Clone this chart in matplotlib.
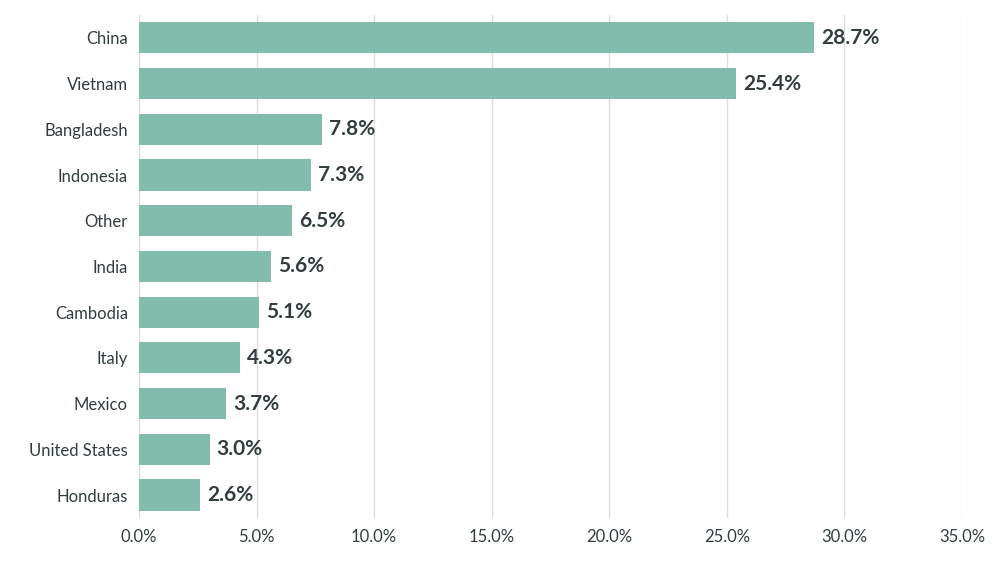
import matplotlib.pyplot as plt
from matplotlib.ticker import FuncFormatter

countries = ["China", "Vietnam", "Bangladesh", "Indonesia", "Other", "India",
             "Cambodia", "Italy", "Mexico", "United States", "Honduras"]
shares = [28.7, 25.4, 7.8, 7.3, 6.5, 5.6, 5.1, 4.3, 3.7, 3.0, 2.6]
xticks = [0, 5, 10, 15, 20, 25, 30, 35]

bar_color = "#82bcad"
text_color = "#333d3f"

fig = plt.figure(figsize=(10, 5.66), dpi=100)
ax = fig.add_axes([0.139, 0.085, 0.823, 0.8885])

ypos = range(len(countries))
ax.barh(ypos, shares, height=0.68, color=bar_color, zorder=2)
for y, v in zip(ypos, shares):
    ax.text(v + 0.3, y, f"{v:.1f}%", va="center", ha="left",
            fontsize=15, fontweight="bold", color=text_color, fontfamily="Lato")

ax.set_yticks(list(ypos))
ax.set_yticklabels(countries, fontsize=12, color=text_color, fontfamily="Lato")
ax.set_ylim(len(countries) - 0.5, -0.5)
ax.set_xlim(0, 35)
ax.set_xticks(xticks)
ax.xaxis.set_major_formatter(FuncFormatter(lambda x, p: f"{x:.1f}%"))
for lbl in ax.get_xticklabels():
    lbl.set_fontfamily("Lato")
    lbl.set_fontsize(12)
    lbl.set_color(text_color)
ax.tick_params(length=0, pad=8)
ax.grid(axis="x", color="#dddddd", linewidth=1, zorder=0)
for s in ax.spines.values():
    s.set_visible(False)

fig.savefig("out.png", dpi=100)
